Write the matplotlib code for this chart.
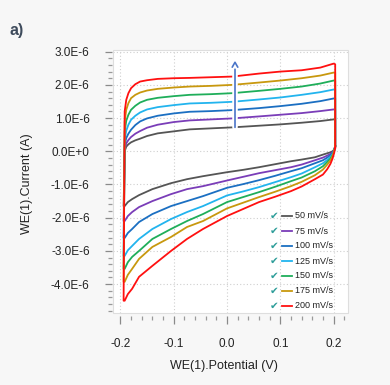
import matplotlib
matplotlib.use("Agg")
import matplotlib.pyplot as plt
from matplotlib.ticker import MultipleLocator
from matplotlib.patches import Rectangle
import matplotlib.patheffects as pe

plt.rcParams['font.family'] = ['Liberation Sans', 'DejaVu Sans']

# ---------------- data (current in uA, potential in V) ----------------
labels = ["50 mV/s", "75 mV/s", "100 mV/s", "125 mV/s", "150 mV/s", "175 mV/s", "200 mV/s"]
colors = ["#555555", "#7a3db8", "#1b6fc2", "#22b4ee", "#1fae5a", "#c8980e", "#ff1010"]

# reverse (cathodic) branch, from right vertex to left vertex
v_down = [0.203, 0.201, 0.198, 0.194, 0.188, 0.18, 0.165, 0.14, 0.12, 0.09, 0.06, 0.03, 0.0,
          -0.045, -0.075, -0.105, -0.14, -0.165, -0.178, -0.186, -0.192]
i_down_50 = [0.15, 0.05, 0.0, -0.03, -0.06, -0.10, -0.18, -0.25, -0.30, -0.39, -0.48, -0.56, -0.63,
             -0.75, -0.84, -0.96, -1.14, -1.32, -1.44, -1.53, -1.65]
i_down_75 = [0.15, 0.04, -0.03, -0.08, -0.13, -0.19, -0.27, -0.40, -0.48, -0.57, -0.66, -0.77, -0.88,
             -1.05, -1.14, -1.29, -1.50, -1.68, -1.83, -1.95, -2.10]
i_down_100 = [0.15, 0.03, -0.06, -0.12, -0.19, -0.27, -0.36, -0.51, -0.60, -0.74, -0.87, -0.99, -1.10,
              -1.35, -1.50, -1.65, -1.89, -2.13, -2.34, -2.46, -2.61]
i_down_125 = [0.15, 0.02, -0.09, -0.17, -0.26, -0.36, -0.48, -0.67, -0.78, -0.93, -1.08, -1.21, -1.33,
              -1.65, -1.83, -2.04, -2.34, -2.64, -2.85, -2.98, -3.15]
i_down_150 = [0.15, 0.01, -0.12, -0.22, -0.32, -0.45, -0.60, -0.79, -0.90, -1.07, -1.23, -1.38, -1.53,
              -1.89, -2.10, -2.34, -2.64, -3.00, -3.18, -3.34, -3.54]
i_down_175 = [0.15, 0.0, -0.15, -0.28, -0.40, -0.55, -0.72, -0.92, -1.05, -1.22, -1.38, -1.55, -1.72,
              -2.10, -2.28, -2.58, -2.88, -3.24, -3.54, -3.72, -3.93]
i_down_200 = [0.10, -0.05, -0.22, -0.38, -0.54, -0.70, -0.84, -1.06, -1.20, -1.37, -1.53, -1.74, -1.95,
              -2.34, -2.64, -3.00, -3.45, -3.78, -4.14, -4.30, -4.50]

# forward (anodic) branch, from left vertex to right vertex
v_up = [-0.194, -0.192, -0.189, -0.185, -0.18, -0.172, -0.163, -0.15, -0.13, -0.1, -0.07, -0.03,
        0.01, 0.06, 0.1, 0.14, 0.175, 0.2, 0.203]
i_up_50 = [-1.65, 0.00, 0.14, 0.21, 0.27, 0.33, 0.38, 0.46, 0.54, 0.60, 0.66, 0.69,
           0.72, 0.77, 0.81, 0.86, 0.91, 0.96, 0.96]
i_up_75 = [-2.10, 0.05, 0.24, 0.34, 0.43, 0.53, 0.61, 0.71, 0.80, 0.88, 0.93, 0.96,
           0.99, 1.05, 1.10, 1.15, 1.21, 1.26, 1.26]
i_up_100 = [-2.61, 0.20, 0.40, 0.53, 0.65, 0.79, 0.90, 0.99, 1.07, 1.14, 1.19, 1.21,
            1.24, 1.30, 1.36, 1.43, 1.51, 1.59, 1.59]
i_up_125 = [-3.15, 0.35, 0.62, 0.80, 0.95, 1.07, 1.17, 1.26, 1.33, 1.39, 1.44, 1.46,
            1.49, 1.56, 1.62, 1.70, 1.78, 1.86, 1.86]
i_up_150 = [-3.54, 0.60, 0.92, 1.10, 1.25, 1.37, 1.47, 1.55, 1.61, 1.66, 1.70, 1.72,
            1.75, 1.82, 1.88, 1.95, 2.04, 2.13, 2.13]
i_up_175 = [-3.93, 0.90, 1.25, 1.45, 1.60, 1.70, 1.77, 1.83, 1.88, 1.92, 1.95, 1.97,
            2.00, 2.07, 2.13, 2.20, 2.28, 2.37, 2.37]
i_up_200 = [-4.50, 1.20, 1.55, 1.75, 1.90, 2.02, 2.10, 2.14, 2.18, 2.20, 2.21, 2.23,
            2.25, 2.34, 2.40, 2.44, 2.52, 2.64, 2.62]

i_down = [i_down_50, i_down_75, i_down_100, i_down_125, i_down_150, i_down_175, i_down_200]
i_up = [i_up_50, i_up_75, i_up_100, i_up_125, i_up_150, i_up_175, i_up_200]

xticks = [-0.2, -0.1, 0.0, 0.1, 0.2]
xtick_labels = ["-0.2", "-0.1", "0.0", "0.1", "0.2"]
yticks = [3, 2, 1, 0, -1, -2, -3, -4]
ytick_labels = ["3.0E-6", "2.0E-6", "1.0E-6", "0.0E+0", "-1.0E-6", "-2.0E-6", "-3.0E-6", "-4.0E-6"]

arrow_x = 0.015
arrow_y0, arrow_y1 = 0.72, 2.73

# ---------------- figure ----------------
W, H = 390, 385
fig = plt.figure(figsize=(W / 100, H / 100), dpi=100, facecolor="#f7f7f7")
L, R, T, B = 113, 348, 50, 313
ax = fig.add_axes([L / W, 1 - B / H, (R - L) / W, (B - T) / H])
ax.set_facecolor("white")

for lab, col, idn, iup in zip(labels, colors, i_down, i_up):
    vv = v_down + v_up + [v_down[0]]
    ii = idn + iup + [idn[0]]
    ax.plot(vv, ii, color=col, lw=1.3, solid_joinstyle="round", zorder=3)

ax.set_xlim(-0.2139, 0.227)
ax.set_ylim(-4.87, 3.05)

for s in ax.spines.values():
    s.set_visible(False)
ax.spines['bottom'].set_position(('outward', 2))
ax.spines['left'].set_position(('outward', 1))
ax.add_patch(Rectangle((0, 0), 1, 1, transform=ax.transAxes, fill=False,
                       edgecolor="#dedede", lw=0.8, clip_on=False, zorder=5))

ax.set_xticks(xticks)
ax.set_xticklabels(xtick_labels)
ax.set_yticks(yticks)
ax.set_yticklabels(ytick_labels)
ax.xaxis.set_minor_locator(MultipleLocator(0.02))
ax.yaxis.set_minor_locator(MultipleLocator(0.2))
ax.tick_params(axis="x", which="major", length=5.8, width=0.9, color="#8a8a8a",
               pad=10, labelsize=8.5, labelcolor="#222222")
ax.tick_params(axis="x", which="minor", length=3, width=0.9, color="#9a9a9a")
ax.tick_params(axis="y", which="major", length=5, width=0.9, color="#8a8a8a",
               pad=10.8, labelsize=8.5, labelcolor="#222222")
ax.tick_params(axis="y", which="minor", length=2.9, width=0.9, color="#9a9a9a")

ax.grid(True, which="major", color="#cfcfcf", lw=0.8, ls=(0, (1, 2)), zorder=0)
ax.set_axisbelow(True)

# arrow
ann = ax.annotate("", xy=(arrow_x, arrow_y1), xytext=(arrow_x, arrow_y0),
                  arrowprops=dict(arrowstyle="->,head_length=0.35,head_width=0.2",
                                  color="#4a74c8", lw=1.2, shrinkA=0, shrinkB=0),
                  zorder=6)
ann.arrow_patch.set_path_effects([pe.withStroke(linewidth=4, foreground="white")])

# legend (manual)
leg_y = [216, 231, 246, 261, 276, 290.5, 305.5]
for lab, col, yp in zip(labels, colors, leg_y):
    fy = 1 - yp / H
    fig.text(274 / W, fy, "\u2714", color="#2f9e9a", fontsize=7.5,
             ha="center", va="center", family=["DejaVu Sans"], zorder=7)
    fig.add_artist(plt.Line2D([282 / W, 292 / W], [fy, fy], color=col, lw=1.3, zorder=7))
    fig.text(295 / W, fy, lab, fontsize=6.5, color="#222222", ha="left", va="center", zorder=7)

# labels
fig.text(223.5 / W, 1 - 366 / H, "WE(1).Potential (V)", fontsize=9, color="#222222",
         ha="center", va="center")
fig.text(27 / W, 1 - 183.5 / H, "WE(1).Current (A)", fontsize=9, color="#222222",
         ha="center", va="center", rotation=90)
fig.text(9 / W, 1 - 31 / H, "a)", fontsize=11.5, fontweight="bold", color="#3e4b5c",
         ha="left", va="center")

fig.savefig("out.png", dpi=100, facecolor=fig.get_facecolor())
